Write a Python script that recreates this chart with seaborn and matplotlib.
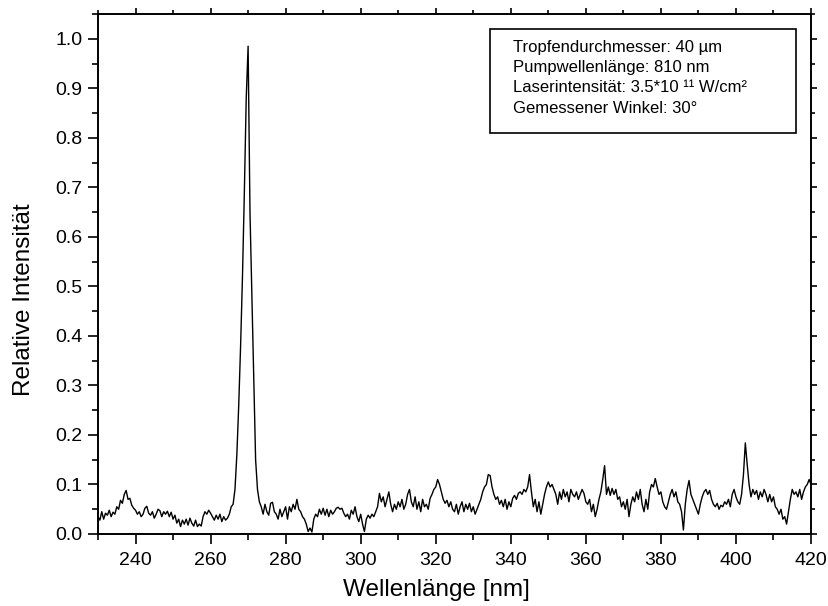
import numpy as np
import pandas as pd
import matplotlib
matplotlib.use("Agg")
import matplotlib.pyplot as plt
from matplotlib.patches import Rectangle
from matplotlib.ticker import MultipleLocator
import seaborn as sns

wavelength_start = 230.0
wavelength_step = 0.5
i_230 = [0.035, 0.028, 0.045, 0.030, 0.042, 0.038, 0.048, 0.035, 0.044, 0.040,
         0.055, 0.050, 0.068, 0.062, 0.080, 0.088, 0.070, 0.072, 0.058, 0.052]
i_240 = [0.048, 0.040, 0.045, 0.035, 0.040, 0.052, 0.056, 0.042, 0.038, 0.045,
         0.032, 0.040, 0.050, 0.047, 0.035, 0.045, 0.040, 0.046, 0.035, 0.044]
i_250 = [0.030, 0.038, 0.022, 0.030, 0.015, 0.028, 0.020, 0.030, 0.018, 0.032,
         0.022, 0.016, 0.028, 0.015, 0.020, 0.016, 0.035, 0.045, 0.040, 0.048]
i_260 = [0.042, 0.035, 0.028, 0.038, 0.030, 0.040, 0.025, 0.035, 0.028, 0.032,
         0.040, 0.055, 0.060, 0.090, 0.160, 0.260, 0.380, 0.520, 0.690, 0.880]
i_270 = [0.985, 0.650, 0.480, 0.320, 0.150, 0.090, 0.065, 0.055, 0.040, 0.060,
         0.045, 0.038, 0.062, 0.064, 0.045, 0.040, 0.030, 0.050, 0.035, 0.045]
i_280 = [0.055, 0.030, 0.055, 0.045, 0.060, 0.050, 0.070, 0.050, 0.045, 0.035,
         0.030, 0.020, 0.005, 0.012, 0.004, 0.030, 0.040, 0.035, 0.050, 0.040]
i_290 = [0.052, 0.038, 0.050, 0.035, 0.048, 0.040, 0.045, 0.052, 0.054, 0.050,
         0.052, 0.042, 0.035, 0.040, 0.030, 0.048, 0.040, 0.055, 0.035, 0.025]
i_300 = [0.040, 0.020, 0.005, 0.030, 0.038, 0.032, 0.040, 0.035, 0.045, 0.055,
         0.082, 0.065, 0.075, 0.055, 0.070, 0.085, 0.060, 0.045, 0.060, 0.050]
i_310 = [0.065, 0.055, 0.070, 0.050, 0.060, 0.080, 0.090, 0.065, 0.055, 0.075,
         0.050, 0.065, 0.045, 0.070, 0.055, 0.060, 0.050, 0.072, 0.080, 0.090]
i_320 = [0.095, 0.110, 0.100, 0.085, 0.070, 0.062, 0.068, 0.055, 0.065, 0.050,
         0.045, 0.060, 0.040, 0.055, 0.065, 0.045, 0.060, 0.050, 0.062, 0.045]
i_330 = [0.055, 0.040, 0.050, 0.060, 0.070, 0.085, 0.095, 0.100, 0.120, 0.118,
         0.095, 0.080, 0.070, 0.075, 0.060, 0.068, 0.055, 0.070, 0.050, 0.065]
i_340 = [0.055, 0.072, 0.078, 0.070, 0.082, 0.085, 0.080, 0.090, 0.085, 0.095,
         0.120, 0.085, 0.055, 0.070, 0.045, 0.065, 0.040, 0.060, 0.080, 0.095]
i_350 = [0.105, 0.095, 0.100, 0.090, 0.080, 0.060, 0.085, 0.070, 0.090, 0.075,
         0.085, 0.065, 0.090, 0.080, 0.075, 0.085, 0.070, 0.080, 0.090, 0.082]
i_360 = [0.065, 0.060, 0.070, 0.045, 0.060, 0.035, 0.050, 0.070, 0.085, 0.110,
         0.138, 0.080, 0.095, 0.078, 0.092, 0.080, 0.090, 0.070, 0.075, 0.055]
i_370 = [0.065, 0.050, 0.070, 0.035, 0.060, 0.075, 0.065, 0.085, 0.070, 0.090,
         0.060, 0.045, 0.070, 0.050, 0.085, 0.100, 0.095, 0.112, 0.095, 0.080]
i_380 = [0.085, 0.065, 0.055, 0.050, 0.065, 0.080, 0.090, 0.075, 0.085, 0.065,
         0.060, 0.045, 0.008, 0.060, 0.090, 0.108, 0.080, 0.070, 0.060, 0.050]
i_390 = [0.040, 0.060, 0.075, 0.085, 0.090, 0.080, 0.088, 0.070, 0.060, 0.055,
         0.062, 0.050, 0.058, 0.055, 0.065, 0.060, 0.070, 0.055, 0.080, 0.090]
i_400 = [0.075, 0.065, 0.060, 0.080, 0.120, 0.184, 0.140, 0.100, 0.075, 0.090,
         0.080, 0.088, 0.070, 0.085, 0.075, 0.090, 0.080, 0.065, 0.080, 0.065]
i_410 = [0.075, 0.055, 0.050, 0.040, 0.050, 0.030, 0.035, 0.020, 0.045, 0.070,
         0.090, 0.080, 0.085, 0.075, 0.090, 0.070, 0.085, 0.095, 0.100, 0.110]
i_420 = [0.100]

x_ticks = [240, 260, 280, 300, 320, 340, 360, 380, 400, 420]
y_ticks = [0.0, 0.1, 0.2, 0.3, 0.4, 0.5, 0.6, 0.7, 0.8, 0.9, 1.0]
info_lines = ["Tropfendurchmesser: 40 µm",
              "Pumpwellenlänge: 810 nm",
              "Laserintensität: 3.5*10 ¹¹ W/cm²",
              "Gemessener Winkel: 30°"]
x_label = "Wellenlänge [nm]"
y_label = "Relative Intensität"

intensity = (i_230 + i_240 + i_250 + i_260 + i_270 + i_280 + i_290 + i_300 +
             i_310 + i_320 + i_330 + i_340 + i_350 + i_360 + i_370 + i_380 +
             i_390 + i_400 + i_410 + i_420)
wavelength = wavelength_start + wavelength_step * np.arange(len(intensity))
df = pd.DataFrame({"wl": wavelength, "I": intensity})

# ---- style ----
sns.set_theme(style="ticks")
plt.rcParams["font.family"] = ["Liberation Sans", "DejaVu Sans"]
plt.rcParams["axes.linewidth"] = 1.4

fig = plt.figure(figsize=(8.29, 6.06), dpi=100)
ax = fig.add_axes([98 / 829, 1 - 534 / 606, (811 - 98) / 829, (534 - 14) / 606])

sns.lineplot(data=df, x="wl", y="I", color="black", linewidth=1.0,
             estimator=None, sort=False, ax=ax)

ax.set_xlim(230, 420)
ax.set_ylim(0, 1.05)
ax.set_xticks(x_ticks)
ax.set_yticks(y_ticks)
ax.set_yticklabels([f"{v:.1f}" for v in y_ticks])
ax.xaxis.set_minor_locator(MultipleLocator(10))
ax.yaxis.set_minor_locator(MultipleLocator(0.05))
for s in ax.spines.values():
    s.set_visible(True)
    s.set_color("black")
    s.set_linewidth(1.4)
ax.tick_params(which="major", direction="out", length=7, width=1.2,
               labelsize=14, colors="black")
ax.tick_params(axis="x", which="major", pad=6)
ax.tick_params(axis="y", which="major", pad=4)
ax.tick_params(which="minor", direction="out", length=4, width=1.2, colors="black")
ax.tick_params(which="both", top=True, right=True, labeltop=False, labelright=False)
# shorter mirrored ticks on top / right
for axis in (ax.xaxis, ax.yaxis):
    for t in axis.get_major_ticks():
        t.tick2line.set_markersize(4)
    for t in axis.get_minor_ticks():
        t.tick2line.set_markersize(3)

ax.set_xlabel(x_label, fontsize=17.5, color="black")
ax.xaxis.set_label_coords((436 - 98) / 713, -(590 - 534) / 520)
ax.xaxis.label.set_va("center")
ax.set_ylabel(y_label, fontsize=17.5, color="black")
ax.yaxis.set_label_coords(-(98 - 24) / 713, (534 - 300) / 520)
ax.yaxis.label.set_va("center")
ax.grid(False)

# info box
ax.add_patch(Rectangle((0.5498, 0.771), 0.979 - 0.5498, 0.971 - 0.771,
                       transform=ax.transAxes, fill=True, facecolor="white",
                       edgecolor="black", linewidth=1.2, zorder=5))
for line, yy in zip(info_lines, [0.9365, 0.898, 0.858, 0.819]):
    ax.text(0.582, yy, line, transform=ax.transAxes, fontsize=12,
            ha="left", va="center", color="black", zorder=6)

fig.savefig("out.png", dpi=100)
